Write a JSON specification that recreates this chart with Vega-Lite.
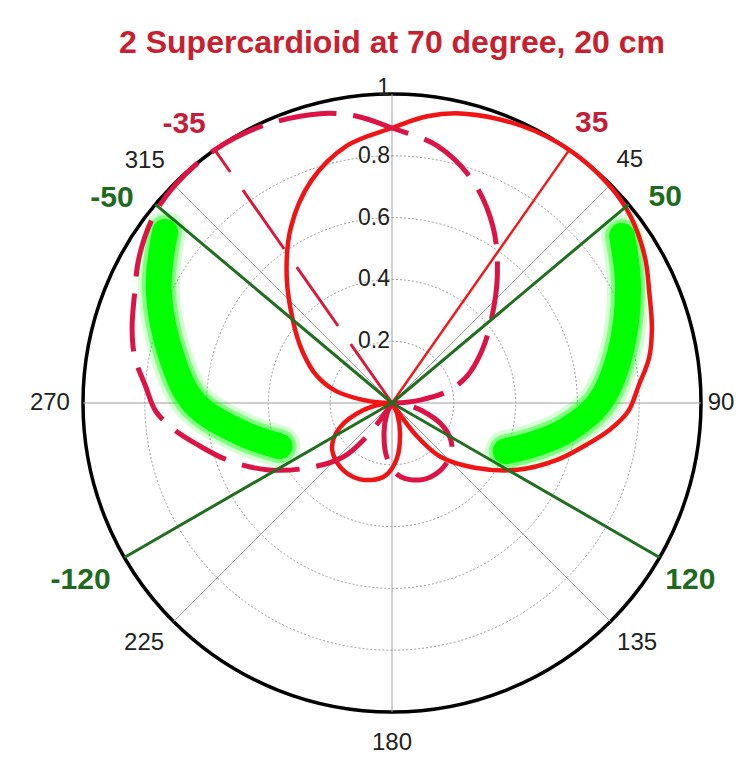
{
  "$schema": "https://vega.github.io/schema/vega-lite/v6.json",
  "width": 618,
  "height": 618,
  "autosize": "none",
  "padding": {"left": 83, "top": 94, "right": 47, "bottom": 49},
  "background": "white",
  "config": {"view": {"stroke": null}},
  "title": {
    "text": "2 Supercardioid at 70 degree, 20 cm",
    "font": "Liberation Sans",
    "fontSize": 32,
    "fontWeight": "bold",
    "color": "#c8202f",
    "anchor": "middle",
    "offset": 17
  },
  "datasets": {
    "rings": [{"r": 0.2}, {"r": 0.4}, {"r": 0.6}, {"r": 0.8}],
    "outer": [{"r": 1}],
    "spokes": [{"a": 0, "r": 1}, {"a": 45, "r": 1}, {"a": 90, "r": 1}, {"a": 135, "r": 1}, {"a": 180, "r": 1}, {"a": 225, "r": 1}, {"a": 270, "r": 1}, {"a": 315, "r": 1}],
    "rays": [
      {"k": "red", "a": 35, "r": 1},
      {"k": "crimson", "a": -35, "r": 1},
      {"k": "green", "a": 50, "r": 1},
      {"k": "green", "a": -50, "r": 1},
      {"k": "green", "a": 120, "r": 1},
      {"k": "green", "a": -120, "r": 1}
    ],
    "curves": [
      {"s": "solid", "i": 0, "a": 147, "r": 0},
      {"s": "solid", "i": 1, "a": 155, "r": 0.04},
      {"s": "solid", "i": 2, "a": 165, "r": 0.1},
      {"s": "solid", "i": 3, "a": 175, "r": 0.18},
      {"s": "solid", "i": 4, "a": 185, "r": 0.235},
      {"s": "solid", "i": 5, "a": 195, "r": 0.258},
      {"s": "solid", "i": 6, "a": 208, "r": 0.27},
      {"s": "solid", "i": 7, "a": 222, "r": 0.263},
      {"s": "solid", "i": 8, "a": 234, "r": 0.24},
      {"s": "solid", "i": 9, "a": 245, "r": 0.185},
      {"s": "solid", "i": 10, "a": 256, "r": 0.097},
      {"s": "solid", "i": 11, "a": 264, "r": 0.03},
      {"s": "solid", "i": 12, "a": 268, "r": 0},
      {"s": "solid", "i": 13, "a": -88, "r": 0.04},
      {"s": "solid", "i": 14, "a": -84, "r": 0.095},
      {"s": "solid", "i": 15, "a": -78, "r": 0.185},
      {"s": "solid", "i": 16, "a": -70, "r": 0.26},
      {"s": "solid", "i": 17, "a": -60, "r": 0.335},
      {"s": "solid", "i": 18, "a": -51, "r": 0.41},
      {"s": "solid", "i": 19, "a": -40, "r": 0.53},
      {"s": "solid", "i": 20, "a": -30, "r": 0.655},
      {"s": "solid", "i": 21, "a": -20, "r": 0.765},
      {"s": "solid", "i": 22, "a": -10, "r": 0.845},
      {"s": "solid", "i": 23, "a": 0, "r": 0.89},
      {"s": "solid", "i": 24, "a": 7, "r": 0.935},
      {"s": "solid", "i": 25, "a": 14, "r": 0.965},
      {"s": "solid", "i": 26, "a": 25, "r": 0.99},
      {"s": "solid", "i": 27, "a": 35, "r": 1.0},
      {"s": "solid", "i": 28, "a": 45, "r": 0.995},
      {"s": "solid", "i": 29, "a": 52, "r": 0.98},
      {"s": "solid", "i": 30, "a": 60, "r": 0.945},
      {"s": "solid", "i": 31, "a": 67, "r": 0.905},
      {"s": "solid", "i": 32, "a": 74, "r": 0.875},
      {"s": "solid", "i": 33, "a": 80, "r": 0.845},
      {"s": "solid", "i": 34, "a": 86, "r": 0.8},
      {"s": "solid", "i": 35, "a": 92, "r": 0.765},
      {"s": "solid", "i": 36, "a": 97, "r": 0.71},
      {"s": "solid", "i": 37, "a": 102, "r": 0.645},
      {"s": "solid", "i": 38, "a": 109, "r": 0.565},
      {"s": "solid", "i": 39, "a": 118, "r": 0.46},
      {"s": "solid", "i": 40, "a": 128, "r": 0.34},
      {"s": "solid", "i": 41, "a": 138, "r": 0.234},
      {"s": "solid", "i": 42, "a": 143, "r": 0.137},
      {"s": "solid", "i": 43, "a": 145, "r": 0.06},
      {"s": "solid", "i": 44, "a": 147, "r": 0},
      {"s": "dashed", "i": 0, "a": -147, "r": 0},
      {"s": "dashed", "i": 1, "a": -155, "r": 0.04},
      {"s": "dashed", "i": 2, "a": -165, "r": 0.1},
      {"s": "dashed", "i": 3, "a": -175, "r": 0.18},
      {"s": "dashed", "i": 4, "a": -185, "r": 0.235},
      {"s": "dashed", "i": 5, "a": -195, "r": 0.258},
      {"s": "dashed", "i": 6, "a": -208, "r": 0.27},
      {"s": "dashed", "i": 7, "a": -222, "r": 0.263},
      {"s": "dashed", "i": 8, "a": -234, "r": 0.24},
      {"s": "dashed", "i": 9, "a": -245, "r": 0.185},
      {"s": "dashed", "i": 10, "a": -256, "r": 0.097},
      {"s": "dashed", "i": 11, "a": -264, "r": 0.03},
      {"s": "dashed", "i": 12, "a": -268, "r": 0},
      {"s": "dashed", "i": 13, "a": 88, "r": 0.04},
      {"s": "dashed", "i": 14, "a": 84, "r": 0.095},
      {"s": "dashed", "i": 15, "a": 78, "r": 0.185},
      {"s": "dashed", "i": 16, "a": 70, "r": 0.26},
      {"s": "dashed", "i": 17, "a": 60, "r": 0.335},
      {"s": "dashed", "i": 18, "a": 51, "r": 0.41},
      {"s": "dashed", "i": 19, "a": 40, "r": 0.53},
      {"s": "dashed", "i": 20, "a": 30, "r": 0.655},
      {"s": "dashed", "i": 21, "a": 20, "r": 0.765},
      {"s": "dashed", "i": 22, "a": 10, "r": 0.845},
      {"s": "dashed", "i": 23, "a": 0, "r": 0.89},
      {"s": "dashed", "i": 24, "a": -7, "r": 0.935},
      {"s": "dashed", "i": 25, "a": -14, "r": 0.965},
      {"s": "dashed", "i": 26, "a": -25, "r": 0.99},
      {"s": "dashed", "i": 27, "a": -35, "r": 1.0},
      {"s": "dashed", "i": 28, "a": -45, "r": 0.995},
      {"s": "dashed", "i": 29, "a": -52, "r": 0.98},
      {"s": "dashed", "i": 30, "a": -60, "r": 0.945},
      {"s": "dashed", "i": 31, "a": -67, "r": 0.905},
      {"s": "dashed", "i": 32, "a": -74, "r": 0.875},
      {"s": "dashed", "i": 33, "a": -80, "r": 0.845},
      {"s": "dashed", "i": 34, "a": -86, "r": 0.8},
      {"s": "dashed", "i": 35, "a": -92, "r": 0.765},
      {"s": "dashed", "i": 36, "a": -97, "r": 0.71},
      {"s": "dashed", "i": 37, "a": -102, "r": 0.645},
      {"s": "dashed", "i": 38, "a": -109, "r": 0.565},
      {"s": "dashed", "i": 39, "a": -118, "r": 0.46},
      {"s": "dashed", "i": 40, "a": -128, "r": 0.34},
      {"s": "dashed", "i": 41, "a": -138, "r": 0.234},
      {"s": "dashed", "i": 42, "a": -143, "r": 0.137},
      {"s": "dashed", "i": 43, "a": -145, "r": 0.06},
      {"s": "dashed", "i": 44, "a": -147, "r": 0},
      {"s": "bandR", "i": 0, "a": 54, "r": 0.92},
      {"s": "bandR", "i": 1, "a": 64, "r": 0.85},
      {"s": "bandR", "i": 2, "a": 78.6, "r": 0.75},
      {"s": "bandR", "i": 3, "a": 90, "r": 0.67},
      {"s": "bandR", "i": 4, "a": 99, "r": 0.57},
      {"s": "bandR", "i": 5, "a": 106, "r": 0.48},
      {"s": "bandR", "i": 6, "a": 113, "r": 0.4},
      {"s": "bandL", "i": 0, "a": -53, "r": 0.92},
      {"s": "bandL", "i": 1, "a": -64, "r": 0.84},
      {"s": "bandL", "i": 2, "a": -78, "r": 0.73},
      {"s": "bandL", "i": 3, "a": -90, "r": 0.64},
      {"s": "bandL", "i": 4, "a": -101, "r": 0.5},
      {"s": "bandL", "i": 5, "a": -111, "r": 0.39}
    ],
    "labels": [
      {"g": "radial", "t": "1", "a": 0, "r": 1.02},
      {"g": "radial", "t": "0.8", "a": 0, "r": 0.8},
      {"g": "radial", "t": "0.6", "a": 0, "r": 0.6},
      {"g": "radial", "t": "0.4", "a": 0, "r": 0.4},
      {"g": "radial", "t": "0.2", "a": 0, "r": 0.2},
      {"g": "angle", "t": "45", "a": 44.4, "r": 1.1},
      {"g": "angle", "t": "90", "a": 90, "r": 1.065},
      {"g": "angle", "t": "135", "a": 134.4, "r": 1.11},
      {"g": "angle", "t": "180", "a": 180, "r": 1.1},
      {"g": "angle", "t": "225", "a": 225.9, "r": 1.117},
      {"g": "angle", "t": "270", "a": 270, "r": 1.107},
      {"g": "angle", "t": "315", "a": 314.4, "r": 1.12},
      {"g": "mark35", "t": "-35", "a": -36.7, "r": 1.126},
      {"g": "mark35", "t": "35", "a": 35.5, "r": 1.113},
      {"g": "markg", "t": "-50", "a": -53.8, "r": 1.123},
      {"g": "markg", "t": "50", "a": 53, "r": 1.107},
      {"g": "markg", "t": "-120", "a": -119.6, "r": 1.159},
      {"g": "markg", "t": "120", "a": 120.7, "r": 1.123}
    ]
  },
  "layer": [
    {
      "data": {"name": "rings"},
      "mark": {"type": "arc", "theta": 0, "theta2": 6.2832, "filled": false, "stroke": "#9a9a9a", "strokeWidth": 1, "strokeDash": [2, 2]},
      "encoding": {
        "radius": {"field": "r", "type": "quantitative", "stack": null, "scale": {"type": "linear", "domain": [0, 1], "range": [0, 309], "zero": true}, "legend": null}
      }
    },
    {
      "data": {"name": "outer"},
      "mark": {"type": "arc", "theta": 0, "theta2": 6.2832, "filled": false, "stroke": "#000000", "strokeWidth": 3.5},
      "encoding": {
        "radius": {"field": "r", "type": "quantitative", "stack": null, "legend": null}
      }
    },
    {
      "data": {"name": "spokes"},
      "transform": [
        {"calculate": "datum.r * sin(datum.a * PI / 180)", "as": "x2"},
        {"calculate": "datum.r * cos(datum.a * PI / 180)", "as": "y2"}
      ],
      "mark": {"type": "rule", "color": "#a0a0a0", "strokeWidth": 1},
      "encoding": {
        "x": {"datum": 0, "type": "quantitative", "scale": {"domain": [-1, 1], "nice": false}, "axis": null},
        "y": {"datum": 0, "type": "quantitative", "scale": {"domain": [-1, 1], "nice": false}, "axis": null},
        "x2": {"field": "x2", "type": "quantitative"},
        "y2": {"field": "y2", "type": "quantitative"}
      }
    },
    {
      "data": {"name": "curves"},
      "transform": [
        {"filter": "datum.s === 'bandR' || datum.s === 'bandL'"},
        {"calculate": "datum.r * sin(datum.a * PI / 180)", "as": "x"},
        {"calculate": "datum.r * cos(datum.a * PI / 180)", "as": "y"}
      ],
      "mark": {"type": "line", "color": "#00ff00", "strokeWidth": 42, "opacity": 0.16, "strokeCap": "round", "strokeJoin": "round", "interpolate": "catmull-rom"},
      "encoding": {
        "x": {"field": "x", "type": "quantitative", "axis": null},
        "y": {"field": "y", "type": "quantitative", "axis": null},
        "order": {"field": "i", "type": "quantitative"},
        "detail": {"field": "s", "type": "nominal"}
      }
    },
    {
      "data": {"name": "curves"},
      "transform": [
        {"filter": "datum.s === 'bandR' || datum.s === 'bandL'"},
        {"calculate": "datum.r * sin(datum.a * PI / 180)", "as": "x"},
        {"calculate": "datum.r * cos(datum.a * PI / 180)", "as": "y"}
      ],
      "mark": {"type": "line", "color": "#00ff00", "strokeWidth": 34, "opacity": 0.4, "strokeCap": "round", "strokeJoin": "round", "interpolate": "catmull-rom"},
      "encoding": {
        "x": {"field": "x", "type": "quantitative", "axis": null},
        "y": {"field": "y", "type": "quantitative", "axis": null},
        "order": {"field": "i", "type": "quantitative"},
        "detail": {"field": "s", "type": "nominal"}
      }
    },
    {
      "data": {"name": "curves"},
      "transform": [
        {"filter": "datum.s === 'bandR' || datum.s === 'bandL'"},
        {"calculate": "datum.r * sin(datum.a * PI / 180)", "as": "x"},
        {"calculate": "datum.r * cos(datum.a * PI / 180)", "as": "y"}
      ],
      "mark": {"type": "line", "color": "#00ff00", "strokeWidth": 26, "opacity": 1, "strokeCap": "round", "strokeJoin": "round", "interpolate": "catmull-rom"},
      "encoding": {
        "x": {"field": "x", "type": "quantitative", "axis": null},
        "y": {"field": "y", "type": "quantitative", "axis": null},
        "order": {"field": "i", "type": "quantitative"},
        "detail": {"field": "s", "type": "nominal"}
      }
    },
    {
      "data": {"name": "curves"},
      "transform": [
        {"filter": "datum.s === 'solid'"},
        {"calculate": "datum.r * sin(datum.a * PI / 180)", "as": "x"},
        {"calculate": "datum.r * cos(datum.a * PI / 180)", "as": "y"}
      ],
      "mark": {"type": "line", "color": "#f01414", "strokeWidth": 4.5, "strokeJoin": "round", "interpolate": "catmull-rom"},
      "encoding": {
        "x": {"field": "x", "type": "quantitative", "axis": null},
        "y": {"field": "y", "type": "quantitative", "axis": null},
        "order": {"field": "i", "type": "quantitative"}
      }
    },
    {
      "data": {"name": "curves"},
      "transform": [
        {"filter": "datum.s === 'dashed'"},
        {"calculate": "datum.r * sin(datum.a * PI / 180)", "as": "x"},
        {"calculate": "datum.r * cos(datum.a * PI / 180)", "as": "y"}
      ],
      "mark": {"type": "line", "color": "#dc1446", "strokeWidth": 5, "strokeDash": [58, 17], "strokeJoin": "round", "interpolate": "catmull-rom"},
      "encoding": {
        "x": {"field": "x", "type": "quantitative", "axis": null},
        "y": {"field": "y", "type": "quantitative", "axis": null},
        "order": {"field": "i", "type": "quantitative"}
      }
    },
    {
      "data": {"name": "rays"},
      "transform": [
        {"filter": "datum.k === 'red'"},
        {"calculate": "datum.r * sin(datum.a * PI / 180)", "as": "x2"},
        {"calculate": "datum.r * cos(datum.a * PI / 180)", "as": "y2"}
      ],
      "mark": {"type": "rule", "color": "#ee1c1c", "strokeWidth": 2.5},
      "encoding": {
        "x": {"datum": 0, "type": "quantitative", "axis": null},
        "y": {"datum": 0, "type": "quantitative", "axis": null},
        "x2": {"field": "x2", "type": "quantitative"},
        "y2": {"field": "y2", "type": "quantitative"}
      }
    },
    {
      "data": {"name": "rays"},
      "transform": [
        {"filter": "datum.k === 'crimson'"},
        {"calculate": "datum.r * sin(datum.a * PI / 180)", "as": "x2"},
        {"calculate": "datum.r * cos(datum.a * PI / 180)", "as": "y2"}
      ],
      "mark": {"type": "rule", "color": "#d81b3c", "strokeWidth": 3, "strokeDash": [72, 22]},
      "encoding": {
        "x": {"datum": 0, "type": "quantitative", "axis": null},
        "y": {"datum": 0, "type": "quantitative", "axis": null},
        "x2": {"field": "x2", "type": "quantitative"},
        "y2": {"field": "y2", "type": "quantitative"}
      }
    },
    {
      "data": {"name": "rays"},
      "transform": [
        {"filter": "datum.k === 'green'"},
        {"calculate": "datum.r * sin(datum.a * PI / 180)", "as": "x2"},
        {"calculate": "datum.r * cos(datum.a * PI / 180)", "as": "y2"}
      ],
      "mark": {"type": "rule", "color": "#1f6f1f", "strokeWidth": 3},
      "encoding": {
        "x": {"datum": 0, "type": "quantitative", "axis": null},
        "y": {"datum": 0, "type": "quantitative", "axis": null},
        "x2": {"field": "x2", "type": "quantitative"},
        "y2": {"field": "y2", "type": "quantitative"}
      }
    },
    {
      "data": {"name": "labels"},
      "transform": [
        {"filter": "datum.g === 'radial'"},
        {"calculate": "datum.r * sin(datum.a * PI / 180)", "as": "x"},
        {"calculate": "datum.r * cos(datum.a * PI / 180)", "as": "y"}
      ],
      "mark": {"type": "text", "font": "Liberation Sans", "fontSize": 23, "color": "#222222", "align": "right", "baseline": "middle", "dx": -2},
      "encoding": {
        "x": {"field": "x", "type": "quantitative", "axis": null},
        "y": {"field": "y", "type": "quantitative", "axis": null},
        "text": {"field": "t", "type": "nominal"}
      }
    },
    {
      "data": {"name": "labels"},
      "transform": [
        {"filter": "datum.g === 'angle'"},
        {"calculate": "datum.r * sin(datum.a * PI / 180)", "as": "x"},
        {"calculate": "datum.r * cos(datum.a * PI / 180)", "as": "y"}
      ],
      "mark": {"type": "text", "font": "Liberation Sans", "fontSize": 24, "color": "#222222", "align": "center", "baseline": "middle"},
      "encoding": {
        "x": {"field": "x", "type": "quantitative", "axis": null},
        "y": {"field": "y", "type": "quantitative", "axis": null},
        "text": {"field": "t", "type": "nominal"}
      }
    },
    {
      "data": {"name": "labels"},
      "transform": [
        {"filter": "datum.g === 'mark35'"},
        {"calculate": "datum.r * sin(datum.a * PI / 180)", "as": "x"},
        {"calculate": "datum.r * cos(datum.a * PI / 180)", "as": "y"}
      ],
      "mark": {"type": "text", "font": "Liberation Sans", "fontSize": 30, "fontWeight": "bold", "color": "#c41e3a", "align": "center", "baseline": "middle"},
      "encoding": {
        "x": {"field": "x", "type": "quantitative", "axis": null},
        "y": {"field": "y", "type": "quantitative", "axis": null},
        "text": {"field": "t", "type": "nominal"}
      }
    },
    {
      "data": {"name": "labels"},
      "transform": [
        {"filter": "datum.g === 'markg'"},
        {"calculate": "datum.r * sin(datum.a * PI / 180)", "as": "x"},
        {"calculate": "datum.r * cos(datum.a * PI / 180)", "as": "y"}
      ],
      "mark": {"type": "text", "font": "Liberation Sans", "fontSize": 30, "fontWeight": "bold", "color": "#1e6b1e", "align": "center", "baseline": "middle"},
      "encoding": {
        "x": {"field": "x", "type": "quantitative", "axis": null},
        "y": {"field": "y", "type": "quantitative", "axis": null},
        "text": {"field": "t", "type": "nominal"}
      }
    }
  ]
}
